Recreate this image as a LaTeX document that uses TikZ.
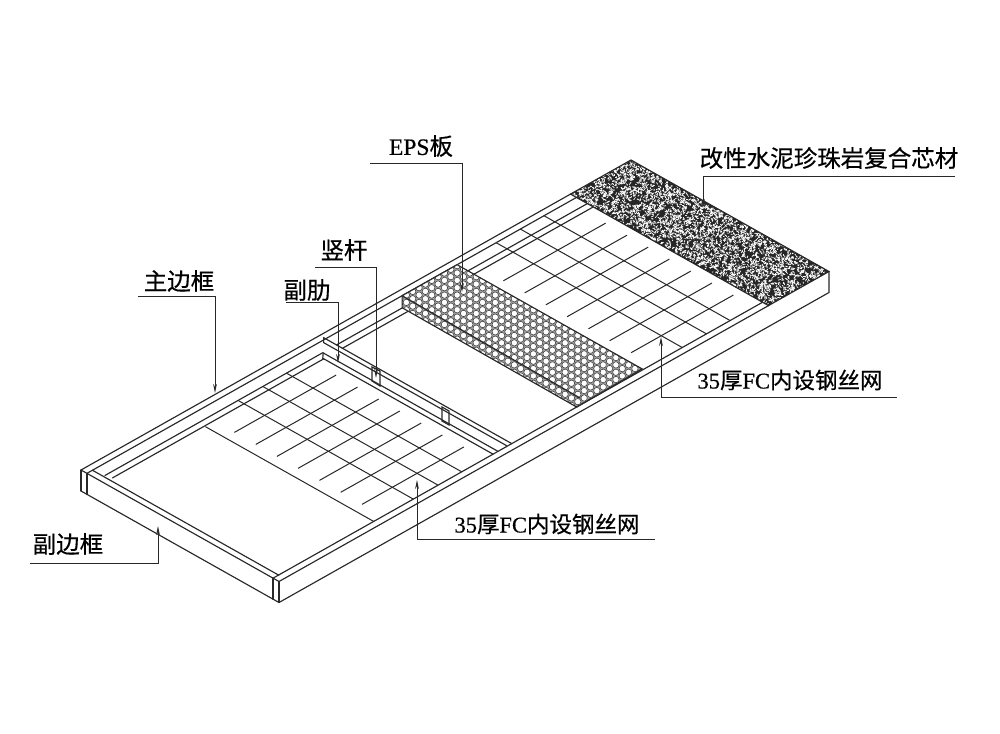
\documentclass[tikz,border=0pt]{standalone}
\usepackage{fontspec}
\setmainfont[FakeBold=0.5]{Noto Sans CJK SC}
\newfontfamily\latfont[FakeBold=0.5]{Liberation Serif}
\usetikzlibrary{arrows.meta,calc}
\definecolor{inkgray}{RGB}{40,40,40}
\newcommand{\meshtxt}{\fontsize{22.5}{25}\selectfont{\latfont 35}厚{\latfont FC}内设钢丝网}
\tikzset{
    edgeline/.style={draw=inkgray, line width=1.15pt, line cap=round},
    meshline/.style={draw=inkgray, line width=1pt},
    leader/.style={draw=inkgray, line width=1pt, -{Stealth[length=9pt,width=3.8pt]}},
    callout/.style={font=\fontsize{23.5}{25}\selectfont, text=black, inner sep=0pt},
}
\begin{document}
\begin{tikzpicture}[x=1pt,y=-1pt]
    \useasboundingbox (0,0) rectangle (1000,733);
    % plane of the panel: first value along the long side, second across it, both in percent
    \begin{scope}[shift={(81,470)}, x={(5.5pt,3.1pt)}, y={(1.98pt,-1.115pt)}]
        \coordinate (epsA) at (67.3,3);
        \coordinate (epsB) at (67.3,96.5);
        \coordinate (epsC) at (57.3,96.5);
        \coordinate (epsD) at (57.3,3);
        \coordinate (epsE) at (55.2,97);
        \coordinate (epsF) at ($(epsD)+(0pt,-12pt)$);
        % core block with its grain
        \begin{scope}
            \clip (89,0) -- (100,0) -- (100,100) -- (89,100) -- cycle;
            \fill[black!85] (89,0) -- (100,0) -- (100,100) -- (89,100) -- cycle;
            \pgfmathsetseed{4711}
            \foreach \i in {1,...,3000} {
                \pgfmathsetmacro{\gs}{89+11*rnd}
                \pgfmathsetmacro{\gt}{100*rnd}
                \pgfmathsetmacro{\dxa}{3.4*rnd-1.7}
                \pgfmathsetmacro{\dya}{3.4*rnd-1.7}
                \pgfmathsetmacro{\dxb}{3.4*rnd-1.7}
                \pgfmathsetmacro{\dyb}{3.4*rnd-1.7}
                \draw[white, line width=0.7pt] (\gs,\gt) -- ++(\dxa pt,\dya pt) -- ++(\dxb pt,\dyb pt);
            }
        \end{scope}
        \draw[edgeline] (89,0) -- (100,0) -- (100,100) -- (89,100) -- cycle;
        % long rails: across/from/to
        \foreach \tv/\sa/\sb in {0/0/89, 3/1/89.5, 8.5/1.3/40.9, 8.5/43.4/57.3, 8.5/67.3/89,
                                 11.5/1.6/40, 11.5/43.4/57.3, 11.5/67.3/89, 97/1/89, 100/0/89} {
            \draw[edgeline] (\sa,\tv) -- (\sb,\tv);
        }
        % front rail and end faces
        \draw[edgeline] (0,0) -- (0,100);
        \draw[edgeline] (0,3) -- (1,3) -- (1,97) -- (0,97);
        \foreach \tv in {0,3,97,100} {
            \draw[edgeline] (0,\tv) -- ++(0pt,-21pt);
        }
        \draw[edgeline] ($(0,0)+(0pt,-21pt)$) -- ($(0,100)+(0pt,-21pt)$) -- ($(100,100)+(0pt,-21pt)$) -- (100,100);
        % ribs
        \foreach \sv/\ta/\tb in {43.4/2/97, 42.6/4.2/96.5, 40.9/8.7/97, 40/11/97} {
            \draw[edgeline] (\sv,\ta) -- (\sv,\tb);
        }
        \draw[edgeline] (43.4,2) -- (42.6,4.2);
        \draw[edgeline] (40.9,8.7) -- (40,11);
        % mesh, front field
        \draw[meshline] (18.3,12) -- (18.3,97);
        \foreach \sv in {25.5,30,34.3} {
            \draw[meshline] (\sv,8.5) -- (\sv,97);
        }
        \foreach \tv in {21.9,32.7,43.4,54.1,64.9,75.6,86.4} {
            \draw[meshline] (20,\tv) -- (38.5,\tv);
            \draw[meshline] (68.9,\tv) -- (87.5,\tv);
        }
        % mesh, rear field
        \foreach \sv in {74.4,78.8,83.1} {
            \draw[meshline] (\sv,3) -- (\sv,97);
        }
    \end{scope}
    % posts on the rib
    \draw[edgeline] (372,367) -- (380,371) -- (380,386) -- (372,381) -- cycle;
    \draw[edgeline] (442,407) -- (449,411) -- (449,425) -- (442,421) -- cycle;
    % EPS board with its holes
    \begin{scope}
        \clip (epsD) -- (epsA) -- (epsB) -- (epsE) -- (epsF) -- cycle;
        \fill[black!35] (epsD) -- (epsA) -- (epsB) -- (epsE) -- (epsF) -- cycle;
        \foreach \i in {0,...,39} {
            \foreach \j in {0,...,20} {
                \pgfmathsetmacro{\hx}{400+6.35*\i}
                \pgfmathsetmacro{\hy}{262+7.35*\j+3.675*mod(\i,2)}
                \draw[draw=black!75, fill=white, line width=0.6pt] (\hx,\hy) circle (3.2pt);
            }
        }
    \end{scope}
    \draw[edgeline] (epsD) -- (epsA) -- (epsB) -- (epsE) -- (epsF) -- cycle;
    \draw[edgeline] (epsD) -- (580,398);
    % labels and their leaders
    \foreach \name/\txt/\tx/\ty/\ua/\ub/\uy/\tipy in {
        zhu/主边框/179/281/138/215/296/393,
        fu/副边框/68/544/30/158/563/526,
        lei/副肋/307/290/286/338/302/363,
        gan/竖杆/344/250/315/376/267/378,
        eps/{{\latfont EPS}板}/421/146/370/462/163/292,
        core/改性水泥珍珠岩复合芯材/829/158/955/703/176/208,
        meshb/\meshtxt/790/380/897/661/397/337,
        mesha/\meshtxt/547/524/655/417/539/480} {
        \node[callout] (lbl\name) at (\tx,\ty) {\txt};
        \coordinate (end\name) at (\ua,\uy);
        \coordinate (bend\name) at (\ub,\uy);
        \coordinate (tip\name) at (\ub,\tipy);
        \draw[leader] (end\name) -- (bend\name) -- (tip\name);
    }
\end{tikzpicture}
\end{document}
